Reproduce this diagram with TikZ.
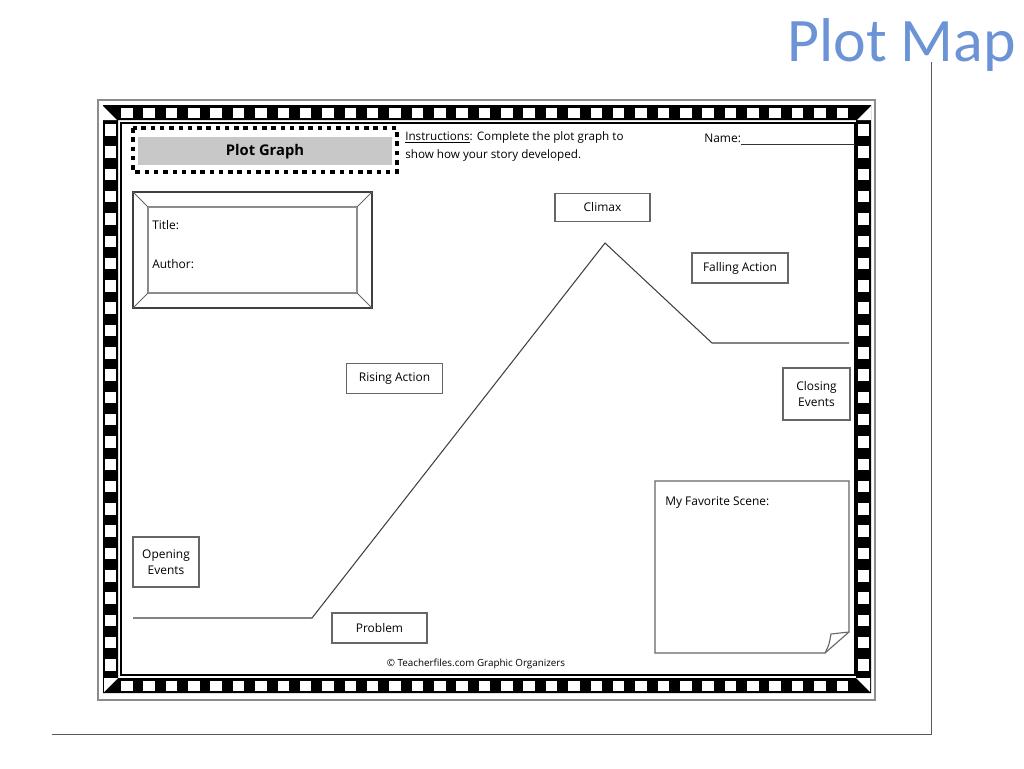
\documentclass[tikz,border=0pt]{standalone}
\usepackage{fontspec}
\setmainfont{Open Sans}
\newfontfamily\slidefont{Carlito}
\usepackage{tikz}
\usetikzlibrary{positioning,calc}

\definecolor{slideblue}{HTML}{6C93D6}
\definecolor{headgray}{HTML}{C8C8C8}

\tikzset{
  labelbox/.style={draw=black!60, line width=0.8pt, align=center, inner sep=0pt,
    font=\fontsize{8.5}{11}\selectfont},
  plaintext/.style={inner sep=0pt, font=\fontsize{8.5}{11}\selectfont},
  plotline/.style={black!75, line width=0.75pt}
}

\begin{document}
\begin{tikzpicture}[x=0.25mm, y=-0.25mm]
  \useasboundingbox (0,0) rectangle (1024,768);

  % slide title and frame lines
  \node[anchor=base west, inner sep=0pt, text=slideblue, font=\slidefont\fontsize{44}{50}\selectfont] (maptitle) at (787,61) {Plot Map};
  \coordinate (frametop) at (931,62);
  \coordinate (framecorner) at (931,734);
  \coordinate (frameleft) at (52,734);
  \draw[black!65, line width=0.6pt] (frametop) -- (framecorner) -- (frameleft);

  % outer gray edge of the sheet
  \draw[black!45, line width=1.1pt] (98,100) rectangle (875,700);

  % checkered border
  \fill[black, even odd rule] (103,105) rectangle (871,693) (118,120) rectangle (856,678);
  \foreach \i in {0,...,32} {
    \fill[white] ({121+\i*22.36},107.5) rectangle ++(11.5,10.5);
    \fill[white] ({121+\i*22.36},680.5) rectangle ++(11.5,10.5);
  }
  \foreach \j in {0,...,24} {
    \fill[white] (105,{124+\j*22.3}) rectangle ++(11,11.5);
    \fill[white] (858,{124+\j*22.3}) rectangle ++(11,11.5);
  }
  % corner triangles
  \fill[white] (103,106) -- (103,120) -- (117,120) -- cycle;
  \fill[white] (104,678) -- (118,678) -- (104,692) -- cycle;
  \fill[white] (871,106) -- (871,120) -- (857,120) -- cycle;
  \fill[white] (856,678) -- (870,678) -- (870,692) -- cycle;
  \draw[black, line width=0.8pt] (121,123) rectangle (855,675);

  % heading box
  \fill[headgray] (138,137) rectangle (392,165);
  \draw[black, line width=3.2pt, dash pattern=on 3.2pt off 3.4pt] (133,128) rectangle (397,172);
  \node[inner sep=0pt, font=\bfseries\fontsize{10.5}{12}\selectfont] (heading) at (265,152) {Plot Graph};

  % instructions and name
  \node[plaintext, anchor=north west, align=left, font=\fontsize{8.3}{13.2}\selectfont] (instr) at (405,131)
    {\underline{Instructions}: Complete the plot graph to\\show how your story developed.};
  \node[plaintext, anchor=base west] (name) at (704,142) {Name:};
  \coordinate (nameend) at (855,144);
  \draw[black!80, line width=0.6pt] (name.base east) ++(0,2) -- (nameend);

  % title and author frame
  \draw[black!75, line width=1pt] (133,192) rectangle (372,308);
  \draw[black!45, line width=0.9pt] (148,207) rectangle (357,293);
  \draw[black!60, line width=0.7pt] (133,192) -- (148,207) (372,192) -- (357,207)
    (133,308) -- (148,293) (372,308) -- (357,293);
  \node[plaintext, anchor=base west] (booktitle) at (152,229) {Title:};
  \node[plaintext, anchor=base west] (author) at (152,268) {Author:};

  % plot line
  \coordinate (start) at (133,618);
  \coordinate (turn) at (312,618);
  \coordinate (peak) at (605,243);
  \coordinate (valley) at (712,343);
  \coordinate (finish) at (849,343);
  \draw[plotline] (start) -- (turn) -- (peak) -- (valley) -- (finish);

  % stage boxes
  \node[labelbox, minimum width=23.75mm, minimum height=7mm] (climax) at (602.5,207.5) {Climax};
  \node[labelbox, minimum width=24mm, minimum height=7.5mm] (falling) at (740,268) {Falling Action};
  \node[labelbox, minimum width=24mm, minimum height=7.5mm] (rising) at (394.5,378.5) {Rising Action};
  \node[labelbox, minimum width=16.75mm, minimum height=13mm] (closing) at (816.5,394) {Closing\\Events};
  \node[labelbox, minimum width=16.5mm, minimum height=12.5mm] (opening) at (166,562) {Opening\\Events};
  \node[labelbox, minimum width=23.75mm, minimum height=7.5mm] (problem) at (379.5,628) {Problem};

  % favorite scene note with folded corner
  \draw[black!60, line width=0.8pt] (655,481) -- (849,481) -- (849,632) -- (825,653) -- (655,653) -- cycle;
  \draw[black!60, line width=0.8pt] (825,653) .. controls (829,645) .. (831,634) -- (849,632);
  \node[plaintext, anchor=base west] (scene) at (665,505) {My Favorite Scene:};

  % footer
  \node[inner sep=0pt, font=\fontsize{7}{9}\selectfont] (footer) at (476,664) {\textcopyright{} Teacherfiles.com Graphic Organizers};
\end{tikzpicture}
\end{document}
